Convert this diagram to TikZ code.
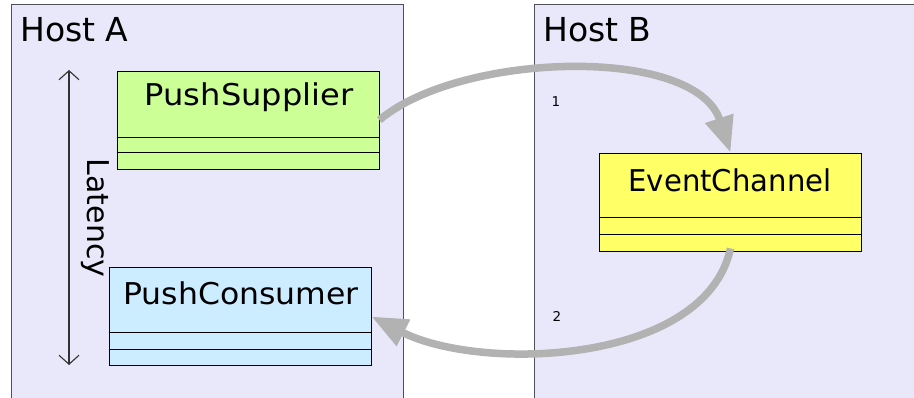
\documentclass[tikz,border=0pt]{standalone}
\usepackage{fontspec}
\setmainfont{DejaVu Sans}
\usetikzlibrary{arrows.meta,calc}
\definecolor{hostbg}{RGB}{232,232,250}
\definecolor{hostline}{RGB}{80,80,90}
\definecolor{supgreen}{RGB}{204,255,150}
\definecolor{conblue}{RGB}{204,236,255}
\definecolor{ecyellow}{RGB}{255,255,102}
\definecolor{flowgray}{RGB}{178,178,178}
\tikzset{
  host/.style={draw=hostline, line width=1pt, fill=hostbg},
  hostlabel/.style={anchor=base west, inner sep=0pt, font=\fontsize{33}{38}\selectfont},
  classbox/.style={draw=black, line width=0.9pt, minimum width=262pt, minimum height=98pt, inner sep=0pt},
  classname/.style={inner sep=0pt, font=\fontsize{30}{35}\selectfont},
  divider/.style={draw=black, line width=0.9pt},
  flow/.style={draw=flowgray, line width=7.5pt, -{Triangle[length=36pt,width=28pt]}},
  stepno/.style={inner sep=0pt, font=\fontsize{13.5}{16}\selectfont},
  latency/.style={draw=black!80, line width=1.1pt, {Straight Barb[length=9pt,width=20pt]}-{Straight Barb[length=9pt,width=20pt]}}
}
\begin{document}
\begin{tikzpicture}[x=1pt,y=-1pt]
  \useasboundingbox (0,0) rectangle (914,398);
  \clip (0,0) rectangle (914,398);
  \fill[white] (0,0) rectangle (914,398);

  % the two hosts
  \draw[host] (11,5) rectangle (403,410);
  \draw[host] (534,5) rectangle (930,410);
  \node[hostlabel] (hostA) at (20,42) {Host A};
  \node[hostlabel] (hostB) at (543,42) {Host B};

  % class boxes
  \node[classbox, fill=supgreen] (sup) at (248,120) {};
  \node[classname] (supname) at (249,97) {\scalebox{1.07}[1]{PushSupplier}};
  \draw[divider] ([yshift=32pt]sup.south west) -- ([yshift=32pt]sup.south east);
  \draw[divider] ([yshift=17pt]sup.south west) -- ([yshift=17pt]sup.south east);

  \node[classbox, fill=conblue] (con) at (240,316.5) {};
  \node[classname] (conname) at (241,293) {\scalebox{1.05}[1]{PushConsumer}};
  \draw[divider] ([yshift=33pt]con.south west) -- ([yshift=33pt]con.south east);
  \draw[divider] ([yshift=16pt]con.south west) -- ([yshift=16pt]con.south east);

  \node[classbox, fill=ecyellow] (ec) at (730.5,202) {};
  \node[classname] (ecname) at (730,180) {\scalebox{0.97}[1]{EventChannel}};
  \draw[divider] ([yshift=34pt]ec.south west) -- ([yshift=34pt]ec.south east);
  \draw[divider] ([yshift=17pt]ec.south west) -- ([yshift=17pt]ec.south east);

  % latency span
  \coordinate (latTop) at (69,70);
  \coordinate (latBot) at (69,365);
  \draw[latency] (latTop) -- (latBot);
  \node[classname, rotate=-90] (latlabel) at (95,218) {Latency};

  % message flow
  \draw[flow] (sup.east) .. controls (460,52) and (695,45) .. (ec.north);
  \draw[flow] ([yshift=3pt]ec.south) .. controls (705,365) and (480,372) .. (con.east);
  \node[stepno] (one) at (556,102) {1};
  \node[stepno] (two) at (557,316) {2};
\end{tikzpicture}
\end{document}
